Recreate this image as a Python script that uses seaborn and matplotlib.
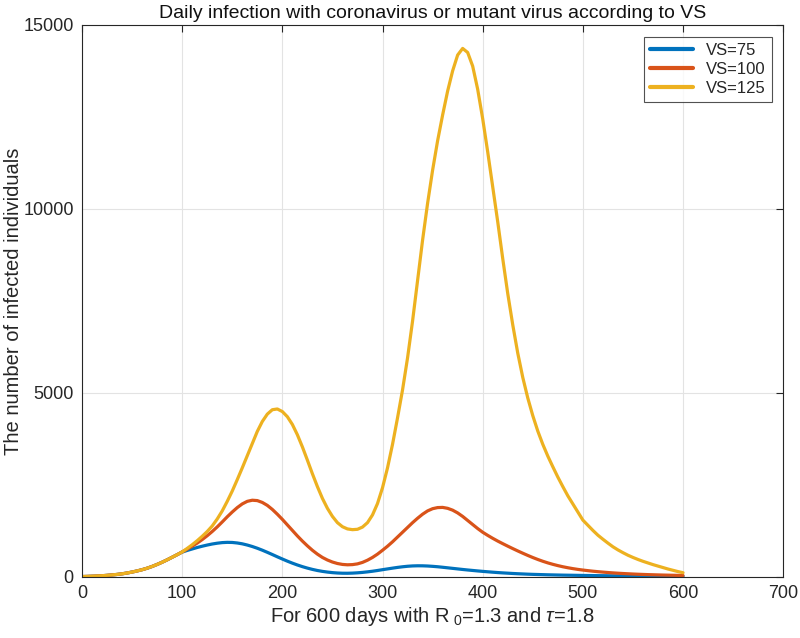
import matplotlib
matplotlib.use("Agg")
import matplotlib.pyplot as plt
import pandas as pd
import seaborn as sns

# values, one every 5 days
days = list(range(0, 601, 5))

early = [5, 9, 14, 20, 28, 38, 50, 63, 80, 102,
         128, 158, 192, 232, 280, 335, 395, 460, 530, 600]   # days 0-95, shared by all

vs75 = early + [
    670, 715, 755, 795, 830, 862, 890, 912, 928, 935,
    932, 918, 895, 862, 822, 775, 722, 664, 604, 542,
    482, 424, 370, 320, 275, 235, 200, 170, 146, 127,
    112, 102, 96, 95, 99, 107, 118, 133, 150, 170,
    192, 213, 234, 254, 271, 285, 294, 298, 297, 292,
    283, 272, 258, 243, 228, 213, 198, 184, 171, 158,
    146, 135, 124, 114, 105, 97, 89, 82, 76, 70,
    65, 61, 57, 53, 50, 47, 44, 42, 40, 38,
    36, 34, 32, 30, 29, 27, 26, 25, 24, 23,
    22, 21, 20, 19, 18, 17, 16, 15, 14, 13, 12]

vs100 = early + [
    675, 750, 830, 915, 1010, 1115, 1230, 1355, 1490, 1630,
    1760, 1880, 1980, 2050, 2080, 2070, 2020, 1940, 1830, 1700,
    1560, 1410, 1260, 1110, 970, 840, 720, 615, 525, 455,
    400, 360, 335, 325, 330, 350, 390, 450, 525, 615,
    720, 830, 950, 1080, 1210, 1340, 1470, 1590, 1700, 1790,
    1850, 1880, 1885, 1860, 1810, 1735, 1640, 1530, 1420, 1310,
    1210, 1125, 1045, 970, 900, 832, 766, 702, 640, 580,
    523, 470, 421, 377, 338, 303, 272, 245, 221, 200,
    182, 166, 151, 138, 126, 115, 105, 96, 88, 81,
    74, 68, 63, 58, 54, 50, 46, 43, 40, 37, 34]

vs125 = early + [
    675, 770, 870, 980, 1100, 1230, 1380, 1570, 1790, 2050,
    2330, 2640, 2960, 3290, 3620, 3950, 4220, 4420, 4540, 4560,
    4490, 4350, 4140, 3860, 3530, 3170, 2800, 2450, 2130, 1860,
    1640, 1470, 1360, 1300, 1280, 1290, 1350, 1470, 1680, 1990,
    2420, 2960, 3600, 4320, 5080, 5950, 6950, 8050, 9150, 10150,
    11050, 11850, 12550, 13200, 13750, 14180, 14360, 14250, 13880, 13250,
    12450, 11550, 10600, 9650, 8650, 7700, 6850, 6080, 5420, 4860,
    4380, 3960, 3600, 3280, 2990, 2710, 2450, 2200, 1980, 1760,
    1540, 1400, 1260, 1130, 1020, 915, 815, 730, 655, 585,
    525, 470, 420, 375, 330, 290, 250, 210, 175, 140, 110]

labels = ["VS=75", "VS=100", "VS=125"]
colors = ["#0072BD", "#D95319", "#EDB120"]

df = pd.DataFrame({
    "day": days * 3,
    "infected": vs75 + vs100 + vs125,
    "series": [lab for lab in labels for _ in days],
})

sns.set_style("whitegrid")
plt.rcParams["font.family"] = ["Liberation Sans", "DejaVu Sans"]
plt.rcParams["mathtext.fontset"] = "custom"
plt.rcParams["mathtext.rm"] = "Liberation Sans"
plt.rcParams["mathtext.it"] = "Liberation Sans:italic"

fig = plt.figure(figsize=(8, 6.38), dpi=100)
ax = fig.add_axes([0.1025, 0.096, 0.8765, 0.865])

sns.lineplot(data=df, x="day", y="infected", hue="series", hue_order=labels,
             palette=colors, linewidth=2.3, ax=ax, estimator=None, sort=False)

ax.set_xlim(0, 700)
ax.set_ylim(0, 15000)
ax.set_xticks(range(0, 701, 100))
ax.set_yticks([0, 5000, 10000, 15000])

ax.grid(True, color="#e3e3e3", linewidth=0.8)
for side in ["top", "right", "bottom", "left"]:
    ax.spines[side].set_visible(True)
    ax.spines[side].set_color("#262626")
    ax.spines[side].set_linewidth(0.8)
ax.tick_params(direction="in", length=5, width=0.8, color="#262626",
               labelsize=13, top=True, right=True, labelcolor="#262626", pad=6)

ax.set_title("Daily infection with coronavirus or mutant virus according to VS",
             fontsize=14, color="#111111", pad=5)
ax.set_xlabel(r"For 600 days with R$_{\ 0}$=1.3 and $\tau$=1.8", fontsize=14.5,
              color="#262626", labelpad=2)
ax.set_ylabel("The number of infected individuals", fontsize=14.5, color="#262626")
ax.yaxis.set_label_coords(-0.084, 0.5)

leg = ax.legend(loc="upper right", fontsize=12, frameon=True, fancybox=False,
                handlelength=2.6, borderpad=0.35, labelspacing=0.25, borderaxespad=0,
                bbox_to_anchor=(0.984, 0.978), title=None)
leg.get_frame().set_edgecolor("#262626")
leg.get_frame().set_linewidth(0.8)
for line in leg.get_lines():
    line.set_linewidth(3)

fig.savefig("out.png", dpi=100)
